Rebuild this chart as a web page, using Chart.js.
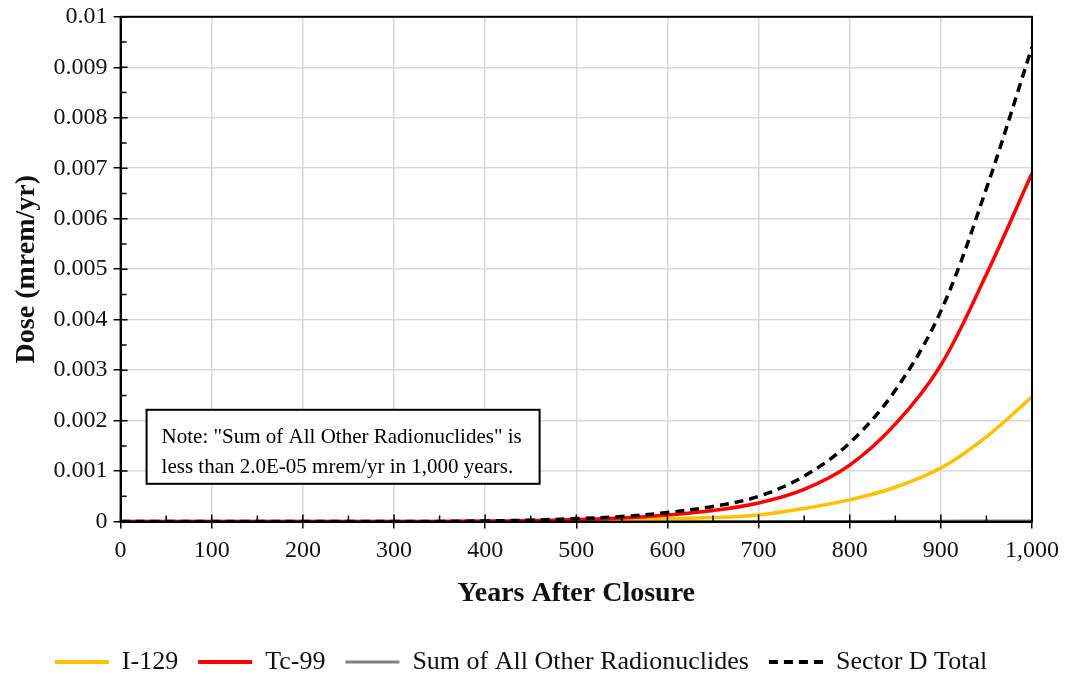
<!DOCTYPE html>
<html>
<head>
<meta charset="utf-8">
<script src="https://cdn.jsdelivr.net/npm/chart.js@4/dist/chart.umd.min.js"></script>
<style>
  html, body { margin: 0; padding: 0; background: #fff; }
  #wrap { width: 1068px; height: 675px; }
</style>
</head>
<body>
<div id="wrap"><canvas id="doseChart" width="1068" height="675"></canvas></div>
<script>
// years after closure
const years = [0, 50, 100, 150, 200, 250, 300, 350, 400, 450, 500, 550, 600, 650, 700, 750, 800, 850, 900, 950, 1000];
// dose, mrem/yr
const i129 = [0, 0, 0, 0, 0, 0, 0, 0.000001, 0.000003, 0.000008, 0.00002, 0.000033, 0.000052, 0.00008, 0.00013, 0.00026, 0.00043, 0.00068, 0.00106, 0.00168, 0.00247];
const tc99 = [0, 0, 0, 0, 0, 0, 0, 0.000003, 0.00001, 0.00002, 0.00004, 0.00007, 0.00013, 0.00022, 0.00037, 0.00064, 0.00112, 0.00193, 0.0031, 0.0049, 0.0069];
const otherNuclides = [0, 0, 0, 0, 0, 0, 0, 0, 0, 0, 0.000001, 0.000001, 0.000002, 0.000003, 0.000004, 0.000006, 0.000008, 0.00001, 0.000013, 0.000016, 0.000019];
const sectorTotal = [0, 0, 0, 0, 0, 0, 0, 0.000004, 0.000013, 0.000028, 0.00006, 0.0001, 0.00018, 0.0003, 0.0005, 0.0009, 0.00156, 0.0026, 0.00417, 0.0066, 0.0094];

const seriesNames = ["I-129", "Tc-99", "Sum of All Other Radionuclides", "Sector D Total"];
const xTickLabels = ["0", "100", "200", "300", "400", "500", "600", "700", "800", "900", "1,000"];
const yTickLabels = ["0", "0.001", "0.002", "0.003", "0.004", "0.005", "0.006", "0.007", "0.008", "0.009", "0.01"];
const noteLines = ['Note: "Sum of All Other Radionuclides" is', "less than 2.0E-05 mrem/yr in 1,000 years."];

const serif = "'Liberation Serif', 'Times New Roman', serif";

const toPoints = (vals) => years.map((x, i) => ({ x: x, y: vals[i] }));

// frame, minor ticks, inner half of major ticks and the note box
const extrasPlugin = {
  id: "extras",
  afterDraw(chart) {
    const { ctx, chartArea: a, scales } = chart;
    const xs = scales.x, ys = scales.y;
    ctx.save();
    ctx.strokeStyle = "#000";
    ctx.lineWidth = 2;
    ctx.strokeRect(a.left, a.top, a.right - a.left, a.bottom - a.top);

    ctx.lineWidth = 1.5;
    ctx.beginPath();
    for (let v = 0; v <= 1000; v += 50) {
      const px = xs.getPixelForValue(v);
      const len = v % 100 === 0 ? 7 : 6;
      ctx.moveTo(px, a.bottom);
      ctx.lineTo(px, a.bottom - len);
    }
    for (let k = 0; k <= 20; k++) {
      const py = ys.getPixelForValue(k * 0.0005);
      const len = k % 2 === 0 ? 7 : 6;
      ctx.moveTo(a.left, py);
      ctx.lineTo(a.left + len, py);
    }
    ctx.stroke();

    // note box
    const bx = a.left + 26, by = a.top + 393, bw = 393, bh = 74;
    ctx.fillStyle = "#fff";
    ctx.fillRect(bx, by, bw, bh);
    ctx.lineWidth = 2;
    ctx.strokeRect(bx, by, bw, bh);
    ctx.fillStyle = "#000";
    ctx.font = "21px " + serif;
    ctx.textAlign = "left";
    ctx.textBaseline = "alphabetic";
    ctx.fillText(noteLines[0], bx + 15, by + 33);
    ctx.fillText(noteLines[1], bx + 15, by + 63);
    ctx.restore();
  }
};

const ctx = document.getElementById("doseChart").getContext("2d");
new Chart(ctx, {
  type: "line",
  data: {
    datasets: [
      { label: seriesNames[0], data: toPoints(i129), borderColor: "#FFC000", backgroundColor: "#FFC000", borderWidth: 3.5, order: 2 },
      { label: seriesNames[1], data: toPoints(tc99), borderColor: "#FF0000", backgroundColor: "#FF0000", borderWidth: 3.5, order: 1 },
      { label: seriesNames[2], data: toPoints(otherNuclides), borderColor: "#808080", backgroundColor: "#808080", borderWidth: 2.5, order: 3 },
      { label: seriesNames[3], data: toPoints(sectorTotal), borderColor: "#000", backgroundColor: "#000", borderWidth: 3.5, borderDash: [9, 6], order: 0 }
    ]
  },
  options: {
    responsive: false,
    animation: false,
    devicePixelRatio: 1,
    layout: { padding: { left: 10, right: 36, top: 8, bottom: -10 } },
    elements: {
      point: { radius: 0, hoverRadius: 0 },
      line: { tension: 0.35, fill: false, capBezierPoints: true }
    },
    scales: {
      x: {
        type: "linear",
        min: 0,
        max: 1000,
        ticks: {
          stepSize: 100,
          color: "#111",
          font: { family: serif, size: 24 },
          padding: 8,
          maxRotation: 0,
          callback: (v) => xTickLabels[Math.round(v / 100)]
        },
        grid: { color: "#d9d9d9", lineWidth: 1.5, tickLength: 7, tickColor: "#000", tickWidth: 1.5 },
        border: { color: "#000", width: 2 },
        title: {
          display: true,
          text: "Years After Closure",
          color: "#111",
          font: { family: serif, size: 28, weight: "bold" },
          padding: { top: 4, bottom: 18 }
        }
      },
      y: {
        min: 0,
        max: 0.01,
        ticks: {
          stepSize: 0.001,
          color: "#111",
          font: { family: serif, size: 24, lineHeight: 0.9 },
          padding: 6,
          callback: (v) => yTickLabels[Math.round(v / 0.001)]
        },
        grid: { color: "#d9d9d9", lineWidth: 1.5, tickLength: 7, tickColor: "#000", tickWidth: 1.5 },
        border: { color: "#000", width: 2 },
        title: {
          display: true,
          text: "Dose (mrem/yr)",
          color: "#111",
          font: { family: serif, size: 28, weight: "bold" },
          padding: { top: 0, bottom: 4 }
        }
      }
    },
    plugins: {
      legend: {
        position: "bottom",
        labels: {
          usePointStyle: true,
          pointStyle: "line",
          pointStyleWidth: 54,
          padding: 20,
          color: "#111",
          font: { family: serif, size: 26 },
          sort: (a, b) => a.datasetIndex - b.datasetIndex,
          generateLabels: (chart) => {
            const items = Chart.defaults.plugins.legend.labels.generateLabels(chart);
            items.forEach((item) => {
              const ds = chart.data.datasets[item.datasetIndex];
              item.lineDash = ds.borderDash || [];
              item.lineWidth = ds.borderWidth + 0.5;
              item.strokeStyle = ds.borderColor;
            });
            return items;
          }
        }
      },
      tooltip: { enabled: false }
    }
  },
  plugins: [extrasPlugin]
});
</script>
</body>
</html>
